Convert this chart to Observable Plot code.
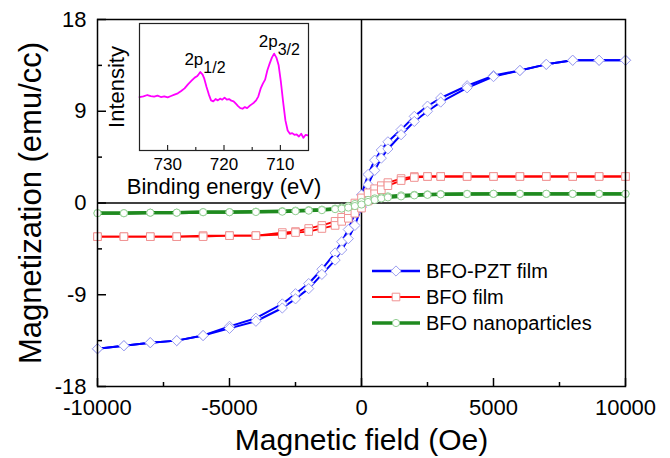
<!DOCTYPE html>
<html><head><meta charset="utf-8">
<script src="https://cdn.jsdelivr.net/npm/d3@7"></script>
<script src="https://cdn.jsdelivr.net/npm/@observablehq/plot@0.6"></script>
<style>
body{margin:0;background:#fff;}
#wrap{position:relative;width:670px;height:458px;background:#fff;}
#wrap > svg{position:absolute;left:0;top:0;overflow:visible;}
</style></head><body><div id="wrap"></div>
<script>
// ---------- main hysteresis data ----------
const fieldOe = [-10000,-9000,-8000,-7000,-6000,-5000,-4000,-3000,-2500,-2000,-1500,-1000,-750,-500,-250,0,250,500,750,1000,1500,2000,2500,3000,4000,5000,6000,7000,8000,9000,10000];
const pztDown = [-14.3,-14.0,-13.7,-13.5,-13.0,-12.1,-11.3,-9.9,-8.9,-7.9,-6.5,-4.9,-3.8,-2.6,-1.0,0.8,2.8,4.2,5.2,6.0,7.2,8.5,9.5,10.3,11.5,12.5,13.0,13.6,14.0,14.0,14.0];
const pztUp   = [-14.3,-14.0,-13.7,-13.5,-13.0,-12.3,-11.6,-10.3,-9.4,-8.4,-7.0,-5.6,-4.6,-3.5,-2.2,-0.4,1.8,3.2,4.4,5.3,6.7,8.0,9.0,9.9,11.3,12.4,13.0,13.6,14.0,14.0,14.0];
const bfoDown = [-3.3,-3.3,-3.3,-3.3,-3.2,-3.2,-3.2,-2.9,-2.8,-2.5,-2.2,-1.8,-1.4,-0.9,0.0,0.5,1.0,1.4,1.7,2.0,2.4,2.6,2.6,2.6,2.6,2.6,2.6,2.6,2.6,2.6,2.6];
const bfoUp   = [-3.3,-3.3,-3.3,-3.3,-3.3,-3.2,-3.2,-3.1,-2.9,-2.8,-2.5,-2.2,-1.8,-1.5,-1.0,-0.5,0.2,0.9,1.3,1.7,2.2,2.5,2.6,2.6,2.6,2.6,2.6,2.6,2.6,2.6,2.6];
const npDown  = [-1.0,-1.0,-0.95,-0.95,-0.9,-0.9,-0.85,-0.8,-0.75,-0.7,-0.65,-0.55,-0.45,-0.3,-0.1,0.1,0.3,0.45,0.55,0.65,0.75,0.8,0.85,0.88,0.9,0.9,0.9,0.9,0.9,0.9,0.9];
const npUp    = [-1.0,-1.0,-0.95,-0.95,-0.9,-0.9,-0.88,-0.85,-0.8,-0.75,-0.7,-0.6,-0.55,-0.45,-0.3,-0.15,0.1,0.3,0.45,0.55,0.65,0.75,0.8,0.85,0.88,0.9,0.9,0.9,0.9,0.9,0.9];
const seriesNames = ["BFO-PZT film","BFO film","BFO nanoparticles"];
const xMajorTicks = [-10000,-5000,0,5000,10000];
const xMinorTicks = [-7500,-2500,2500,7500];
const yMajorTicks = [-18,-9,0,9,18];
const yMinorTicks = [-13.5,-4.5,4.5,13.5];

// ---------- inset XPS data ----------
const bindingEnergy = [735.0,734.3,733.6,733.0,732.4,731.8,731.2,730.6,730.0,729.4,728.8,728.2,727.6,727.0,726.4,725.8,725.2,724.8,724.5,724.2,723.8,723.5,723.1,722.7,722.3,721.9,721.5,721.1,720.7,720.3,719.9,719.5,719.1,718.7,718.3,717.9,717.5,717.1,716.7,716.3,715.9,715.5,715.1,714.7,714.3,713.9,713.5,713.1,712.7,712.3,711.9,711.5,711.1,710.7,710.3,709.9,709.5,709.1,708.7,708.3,707.9,707.5,707.1,706.7,706.3,705.9,705.5,705.1];
const intensity = [16.0,16.2,16.6,16.3,16.1,16.4,16.0,16.2,15.9,16.3,16.7,17.1,17.8,18.6,19.8,20.8,21.8,22.2,22.8,23.5,22.7,21.5,19.0,16.8,15.0,14.7,15.4,15.0,15.5,15.2,15.8,15.2,15.4,14.9,14.7,14.0,13.3,12.7,12.5,13.0,12.7,13.3,13.8,14.3,15.0,16.2,18.5,20.0,21.2,24.0,26.0,27.8,29.0,27.8,25.5,20.5,14.5,9.0,6.0,5.0,5.2,4.7,4.8,4.2,5.0,3.8,4.7,4.5];
const peakEnergy = [724.2, 711.0];
const peakIntensity = [23.5, 29.0];
const peakSub = ["1/2", "3/2"];
const insetMajorTicks = [730,720,710];
const insetMinorTicks = [725,715];

// ---------- styles ----------
const FONT = "'Liberation Sans', Arial, sans-serif";
const lineColors = ["#0000ff","#ff0000","#1f8a1f"];
const markerColors = ["#9d9ff0","#f09292","#92cf92"];
const symbols = ["diamond2","square","circle"];
const radii = [4.6, 4.3, 3.6];
const lineWidths = [2, 1.8, 3.2];

const branches = [[pztDown,pztUp],[bfoDown,bfoUp],[npDown,npUp]];
const rows = [];
seriesNames.forEach((name, s) => {
  ["down","up"].forEach((b, bi) => {
    fieldOe.forEach((h, i) => rows.push({series: name, branch: b, H: h, M: branches[s][bi][i]}));
  });
});

const seriesMarks = [];
seriesNames.forEach((name, s) => {
  const d = rows.filter(r => r.series === name);
  seriesMarks.push(Plot.line(d, {x: "H", y: "M", z: "branch", stroke: lineColors[s], strokeWidth: lineWidths[s]}));
  seriesMarks.push(Plot.dot(d, {x: "H", y: "M", symbol: symbols[s], r: radii[s], stroke: markerColors[s], fill: "white", strokeWidth: 1}));
});

const main = Plot.plot({
  width: 670, height: 458,
  marginLeft: 97, marginRight: 45, marginTop: 19, marginBottom: 72,
  style: {fontFamily: FONT, background: "transparent", color: "#000", overflow: "visible"},
  x: {domain: [-10000, 10000]},
  y: {domain: [-18, 18]},
  marks: [
    Plot.ruleX([0], {stroke: "#000", strokeWidth: 1.5}),
    Plot.ruleY([0], {stroke: "#000", strokeWidth: 1.5}),
    ...seriesMarks,
    Plot.frame({stroke: "#000", strokeWidth: 1.5}),
    Plot.axisX(xMajorTicks, {tickSize: 0, tickPadding: 13, fontSize: 22, tickFormat: d => String(d), label: null}),
    Plot.axisX(xMajorTicks, {tickSize: -8, strokeWidth: 1.5, tickFormat: () => "", label: null}),
    Plot.axisX(xMinorTicks, {tickSize: -4, strokeWidth: 1.5, tickFormat: () => "", label: null}),
    Plot.axisY(yMajorTicks, {tickSize: 0, tickPadding: 11, fontSize: 22, tickFormat: d => String(d), label: null}),
    Plot.axisY(yMajorTicks, {tickSize: -9, strokeWidth: 1.5, tickFormat: () => "", label: null}),
    Plot.axisY(yMinorTicks, {tickSize: -5, strokeWidth: 1.5, tickFormat: () => "", label: null}),
    Plot.text(["Magnetic field (Oe)"], {frameAnchor: "bottom", dy: 63, lineAnchor: "bottom", textAnchor: "middle", fontSize: 30, fill: "#000"}),
    Plot.text(["Magnetization (emu/cc)"], {frameAnchor: "left", dx: -57, rotate: -90, lineAnchor: "bottom", textAnchor: "middle", fontSize: 31, fill: "#000"})
  ]
});

const peaks = peakEnergy.map((e, i) => ({e, v: peakIntensity[i], sub: peakSub[i]}));
const inset = Plot.plot({
  width: 240, height: 200,
  marginLeft: 39, marginRight: 32, marginTop: 23, marginBottom: 50,
  style: {fontFamily: FONT, background: "transparent", color: "#000", overflow: "visible"},
  x: {domain: [735, 705]},
  y: {domain: [0, 38], axis: null},
  marks: [
    Plot.line(bindingEnergy.map((e, i) => ({e, v: intensity[i]})), {x: "e", y: "v", stroke: "#ff00ff", strokeWidth: 1.8}),
    Plot.frame({stroke: "#222", strokeWidth: 1.2}),
    Plot.axisX(insetMajorTicks, {tickSize: 0, tickPadding: 7, fontSize: 17, tickFormat: d => String(d), label: null}),
    Plot.axisX(insetMajorTicks, {tickSize: -5, tickFormat: () => "", label: null}),
    Plot.axisX(insetMinorTicks, {tickSize: -3, tickFormat: () => "", label: null}),
    Plot.text(["Binding energy (eV)"], {frameAnchor: "bottom", dy: 43, lineAnchor: "bottom", textAnchor: "middle", fontSize: 22, fill: "#000"}),
    Plot.text(["Intensity"], {frameAnchor: "left", dx: -16, rotate: -90, lineAnchor: "bottom", textAnchor: "middle", fontSize: 22, fill: "#000"}),
    Plot.text(peaks, {x: "e", y: "v", text: () => "2p", textAnchor: "end", lineAnchor: "bottom", dy: -7, dx: 3, fontSize: 17, fill: "#000"}),
    Plot.text(peaks, {x: "e", y: "v", text: "sub", textAnchor: "start", lineAnchor: "bottom", dy: 1, dx: 3, fontSize: 16, fill: "#000"})
  ]
});

const wrap = document.getElementById("wrap");
wrap.appendChild(main);
inset.style.left = "100px";
inset.style.top = "0px";
wrap.appendChild(inset);

// ---------- legend ----------
const leg = d3.select(wrap).append("svg").attr("width", 670).attr("height", 458).style("font-family", FONT);
const legSymbols = [d3.symbolDiamond2, d3.symbolSquare, d3.symbolCircle];
seriesNames.forEach((name, s) => {
  const g = leg.append("g").attr("transform", `translate(372,${271 + s * 26})`);
  g.append("line").attr("x1", 0).attr("x2", 48).attr("y1", 0).attr("y2", 0)
    .attr("stroke", lineColors[s]).attr("stroke-width", lineWidths[s] + 0.3);
  g.append("path").attr("transform", "translate(24,0)")
    .attr("d", d3.symbol(legSymbols[s], radii[s] * radii[s] * Math.PI)())
    .attr("fill", "white").attr("stroke", markerColors[s]).attr("stroke-width", 1);
  g.append("text").attr("x", 54).attr("y", 7).attr("font-size", 20).attr("fill", "#000").text(name);
});
</script></body></html>
